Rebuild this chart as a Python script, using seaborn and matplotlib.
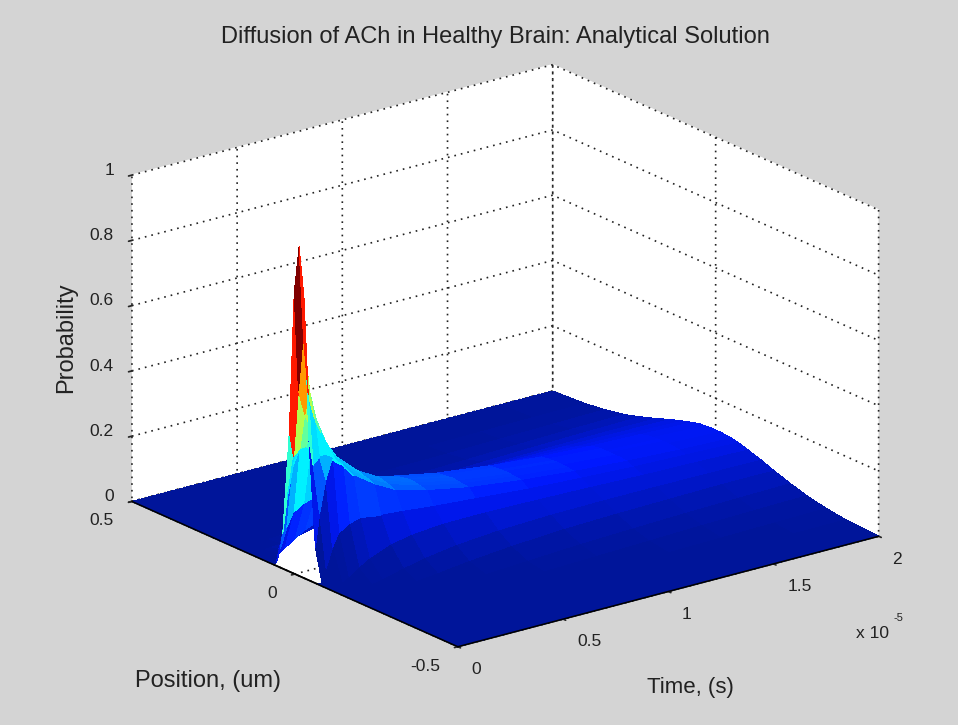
#!/usr/bin/env python3
import numpy as np
import matplotlib
matplotlib.use("Agg")
import matplotlib.pyplot as plt
import seaborn as sns
from mpl_toolkits.mplot3d import proj3d

# tiempo en unidades de 1e-5 s
tiempos = [0, 0.02, 0.04, 0.07, 0.1, 0.15, 0.2, 0.3, 0.4, 0.55, 0.75, 1, 1.25, 1.5, 1.75, 2]
posiciones = [0, 0.015, 0.03, 0.05, 0.07, 0.1, 0.14, 0.18, 0.23, 0.28, 0.34, 0.4, 0.5]

# una fila por posicion (la curva es simetrica en torno a 0)
nan = float("nan")
prob_0 = [nan, 1.0, .725, .548, .459, .374, .324, .265, .229, .196, .167, .145, .130, .118, .110, .103]
prob_1 = [nan, .85, .55, .470, .424, .355, .311, .258, .224, .193, .165, .144, .129, .117, .110, .103]
prob_2 = [nan, .42, .34, .36, .36, .33, .30, .255, .22, .19, .163, .143, .128, .117, .109, .102]
prob_3 = [nan, .10, .20, .30, .36, .33, .29, .245, .21, .185, .16, .14, .125, .114, .106, .10]
prob_4 = [0, 0, .04, .10, .14, .16, .17, .16, .155, .145, .135, .122, .113, .105, .100, .095]
prob_5 = [0, 0, 0, .004, .014, .036, .056, .082, .095, .104, .105, .102, .098, .093, .090, .086]
prob_6 = [0, 0, 0, 0, .001, .004, .010, .027, .041, .056, .067, .073, .075, .075, .074, .073]
prob_7 = [0, 0, 0, 0, 0, 0, .001, .006, .013, .025, .037, .047, .052, .055, .058, .058]
prob_8 = [0, 0, 0, 0, 0, 0, 0, .001, .002, .007, .014, .023, .029, .034, .038, .041]
prob_9 = [0, 0, 0, 0, 0, 0, 0, 0, 0, .001, .004, .009, .014, .019, .023, .026]
prob_10 = [0, 0, 0, 0, 0, 0, 0, 0, 0, 0, .001, .003, .005, .008, .011, .014]
prob_11 = [0, 0, 0, 0, 0, 0, 0, 0, 0, 0, 0, .001, .001, .003, .005, .006]
prob_12 = [0, 0, 0, 0, 0, 0, 0, 0, 0, 0, 0, 0, 0, 0, 0, 0]

ticks_tiempo = [0, 0.5, 1, 1.5, 2]
ticks_posicion = [-0.5, 0, 0.5]
ticks_prob = [0, 0.2, 0.4, 0.6, 0.8, 1]
etq_tiempo = ['0', '0.5', '1', '1.5', '2']
etq_posicion = ['-0.5', '0', '0.5']
etq_prob = ['0', '0.2', '0.4', '0.6', '0.8', '1']

mitad = np.array([prob_0, prob_1, prob_2, prob_3, prob_4, prob_5, prob_6, prob_7,
                  prob_8, prob_9, prob_10, prob_11, prob_12])
Z = np.vstack([mitad[:0:-1], mitad])
y = np.array([-p for p in posiciones[:0:-1]] + posiciones)
X, Y = np.meshgrid(tiempos, y)

sns.set_theme(style="white")
plt.rcParams['font.family'] = ['Liberation Sans', 'DejaVu Sans']

# paleta tipo jet de MATLAB
paleta = sns.blend_palette(['#00159a', '#0018ff', '#0080ff', '#00ffff', '#80ff80',
                            '#ffff00', '#ff8000', '#ff0000', '#800000'], as_cmap=True)

# color plano por la esquina inicial de cada celda; las celdas del hueco quedan transparentes
hueco = np.isnan(Z)
Z_sup = np.nan_to_num(Z)
colores = paleta(plt.Normalize(0, 1)(Z_sup))
celda_vacia = hueco[:-1, :-1] | hueco[1:, :-1] | hueco[:-1, 1:] | hueco[1:, 1:]
colores[:-1, :-1, 3][celda_vacia] = 0

gris = "#d4d4d4"
tinta = '#222222'
fig = plt.figure(figsize=(9.58, 7.25), dpi=100, facecolor=gris)
ax = fig.add_axes([0.0172, -0.0041, 1.0, 1.0], projection='3d', facecolor=gris)
ax.set_proj_type('ortho')
ax.view_init(elev=20, azim=-127.5)
ax.set_box_aspect((530, 535, 347), zoom=1.111)
ax.computed_zorder = False

sup = ax.plot_surface(X, Y, Z_sup, facecolors=colores, rstride=1, cstride=1,
                      linewidth=0, antialiased=False, shade=False, zorder=1)
sup.set_clip_on(False)
for xs, ys in (([0, 0], [-0.5, 0.5]), ([0, 2], [-0.5, -0.5])):
    borde, = ax.plot(xs, ys, [0, 0], color='black', linewidth=1, zorder=2)
    borde.set_clip_on(False)

ax.set_xlim(0, 2, view_margin=0)
ax.set_ylim(-0.5, 0.5, view_margin=0)
ax.set_zlim(0, 1, view_margin=0)
ax.set_xticks(ticks_tiempo, [''] * len(ticks_tiempo))
ax.set_yticks(ticks_posicion, [''] * len(ticks_posicion))
ax.set_zticks(ticks_prob, [''] * len(ticks_prob))

for eje in (ax.xaxis, ax.yaxis, ax.zaxis):
    eje.set_pane_color((1, 1, 1, 1))
    eje.pane.set_edgecolor((1, 1, 1, 0))
    eje._axinfo['grid'].update(color=tinta, linestyle=(0, (1, 3)), linewidth=1.2)
    eje._axinfo['tick'].update(inward_factor=0.1, outward_factor=0.0)
ax.zaxis.line.set_color((0, 0, 0, 0))
ax.xaxis.line.set_color('black')
ax.yaxis.line.set_color('black')
ax.grid(True)

# las etiquetas de los ejes 3D no se dejan mover bien: se anclan al tick con un desfase en puntos
def rotulo(px3, py3, pz3, texto, dx, dy, ha):
    x2, y2, _ = proj3d.proj_transform(px3, py3, pz3, ax.get_proj())
    ax.annotate(texto, (x2, y2), xytext=(dx, dy), textcoords='offset points', ha=ha, va='center',
                fontsize=12.5, color=tinta, annotation_clip=False)

for t, etq in zip(ticks_tiempo, etq_tiempo):
    rotulo(t, -0.5, 0, etq, 10, -16.5, 'left')
for p, etq in zip(ticks_posicion, etq_posicion):
    rotulo(0, p, 0, etq, -13, -14, 'right')
for v, etq in zip(ticks_prob, etq_prob):
    rotulo(0, 0.5, v, etq, -13, 3.5, 'right')

def px(x_px, y_px):
    return x_px / 958, 1 - y_px / 725

fig.text(*px(495, 37), "Diffusion of ACh in Healthy Brain: Analytical Solution",
         ha='center', va='center', fontsize=17, color=tinta)
fig.text(*px(66, 338), "Probability", rotation=90, ha='center', va='center',
         fontsize=17, color=tinta)
fig.text(*px(208, 681), "Position, (um)", ha='center', va='center', fontsize=17, color=tinta)
fig.text(*px(690, 688), "Time, (s)", ha='center', va='center', fontsize=16, color=tinta)
fig.text(*px(856, 633), "x 10", ha='left', va='center', fontsize=12.5, color=tinta)
fig.text(*px(893, 618), "-5", ha='left', va='center', fontsize=8, color=tinta)

fig.savefig("out.png", dpi=100, facecolor=gris)
